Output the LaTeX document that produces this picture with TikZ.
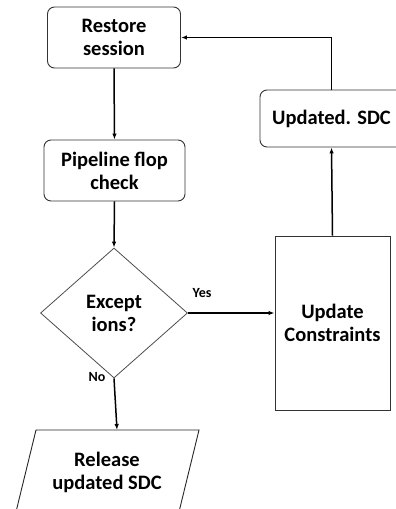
\documentclass[tikz,border=0pt]{standalone}
\usepackage{fontspec}
\setmainfont{Carlito}
\usetikzlibrary{shapes.geometric,arrows.meta}

\tikzset{
  boxfont/.style={font=\fontsize{20.5}{23}\selectfont\bfseries},
  box/.style={draw=black!80, line width=0.9pt, rounded corners=7pt, align=center,
    inner sep=0pt, boxfont},
  plainbox/.style={draw=black!80, line width=0.9pt, align=center, inner sep=0pt, boxfont},
  decision/.style={diamond, draw=black!70, line width=0.8pt, inner sep=0pt, align=center, boxfont},
  label text/.style={font=\fontsize{14}{16}\selectfont\bfseries, inner sep=0pt},
  flow/.style={line width=1.5pt, -{Latex[length=6pt,width=4.5pt]}},
}

\begin{document}
\begin{tikzpicture}[x=1pt, y=-1pt]
  \useasboundingbox (0,0) rectangle (396,509);

  % process steps
  \node[box, minimum width=133pt, minimum height=61pt] (restore) at (114,37.5) {Restore\\session};
  \node[box, minimum width=141pt, minimum height=61pt] (pipe) at (114.5,170.5) {Pipeline flop\\check};
  \node[box, minimum width=143pt, minimum height=57pt] (upd) at (331.5,118.5) {Updated. SDC};
  \node[plainbox, minimum width=115pt, minimum height=174pt] (cons) at (332.5,323) {Update\\Constraints};

  % decision
  \node[decision, minimum width=147pt, minimum height=130pt] (dec) at (114,313) {Except\\ions?};

  % output parallelogram, running past the lower edge
  \draw[draw=black!85, line width=0.9pt] (14,520) -- (36,430) -- (199,430) -- (177,520);
  \coordinate (reltop) at (117,430);
  \node[boxfont, align=center, inner sep=0pt] (release) at (107,472) {Release\\updated SDC};

  % connectors
  \draw[flow] (restore.south) -- (pipe.north);
  \draw[flow] (pipe.south) -- (dec.north);
  \draw[flow] (dec.east) -- (dec.east -| cons.west);
  \draw[flow] (dec.south) -- (reltop);
  \draw[flow] (cons.north) -- (upd.south);
  \draw[flow] (upd.north) |- (restore.east);

  % branch labels
  \node[label text] (yes) at (202,293) {Yes};
  \node[label text] (no) at (97,377) {No};
\end{tikzpicture}
\end{document}
